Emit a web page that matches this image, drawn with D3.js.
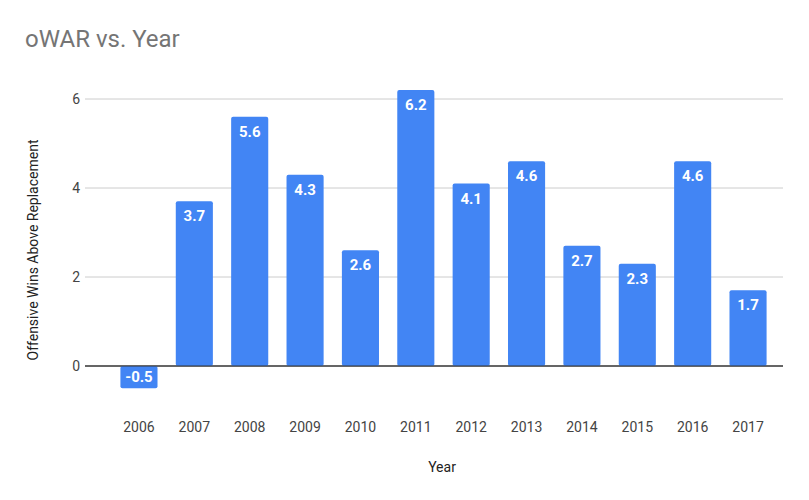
<!DOCTYPE html><html><head><script src="https://cdn.jsdelivr.net/npm/d3@7"></script>
<style>body{margin:0;background:#fff}text{font-family:Roboto,sans-serif}</style></head><body>
<script>
const years=["2006","2007","2008","2009","2010","2011","2012","2013","2014","2015","2016","2017"];
const owar=[-0.5,3.7,5.6,4.3,2.6,6.2,4.1,4.6,2.7,2.3,4.6,1.7];
const yTicks=[0,2,4,6];
const W=809,H=500;
const svg=d3.select("body").append("svg").attr("width",W).attr("height",H);
const x=d3.scaleBand().domain(years).range([111,776]).paddingInner(0.33).paddingOuter(0.17);
const y=d3.scaleLinear().domain([-1,7]).range([410.5,54.5]);
svg.append("text").attr("x",25).attr("y",47).attr("font-size",24).attr("fill","#757575").text("oWAR vs. Year");
svg.selectAll(".g").data(yTicks).join("line").attr("x1",85).attr("x2",783).attr("y1",d=>y(d)).attr("y2",d=>y(d)).attr("stroke",d=>d===0?"#333":"#ccc").attr("stroke-width",1);
svg.selectAll(".bar").data(owar).join("rect").attr("x",(d,i)=>x(years[i])).attr("width",x.bandwidth())
 .attr("y",d=>y(Math.max(0,d))).attr("height",d=>Math.abs(y(d)-y(0))).attr("fill","#4285f4").attr("rx",2);
svg.selectAll(".zl").data([0]).join("line").attr("x1",85).attr("x2",783).attr("y1",y(0)).attr("y2",y(0)).attr("stroke","#333");
svg.selectAll(".lbl").data(owar).join("text").attr("x",(d,i)=>x(years[i])+x.bandwidth()/2)
 .attr("y",d=>d>=0?y(d)+20:y(0)+16).attr("text-anchor","middle").attr("font-size",15).attr("font-weight","bold").attr("fill","#fff").text(d=>d.toFixed(1));
svg.selectAll(".yt").data(yTicks).join("text").attr("x",80).attr("y",d=>y(d)+5).attr("text-anchor","end").attr("font-size",14).attr("fill","#444").text(d=>d);
svg.selectAll(".xt").data(years).join("text").attr("x",d=>x(d)+x.bandwidth()/2).attr("y",432).attr("text-anchor","middle").attr("font-size",14).attr("fill","#444").text(d=>d);
svg.append("text").attr("x",442).attr("y",472).attr("text-anchor","middle").attr("font-size",14).attr("fill","#222").text("Year");
svg.append("text").attr("transform","translate(38,250) rotate(-90)").attr("text-anchor","middle").attr("font-size",14).attr("fill","#222").text("Offensive Wins Above Replacement");
</script></body></html>
